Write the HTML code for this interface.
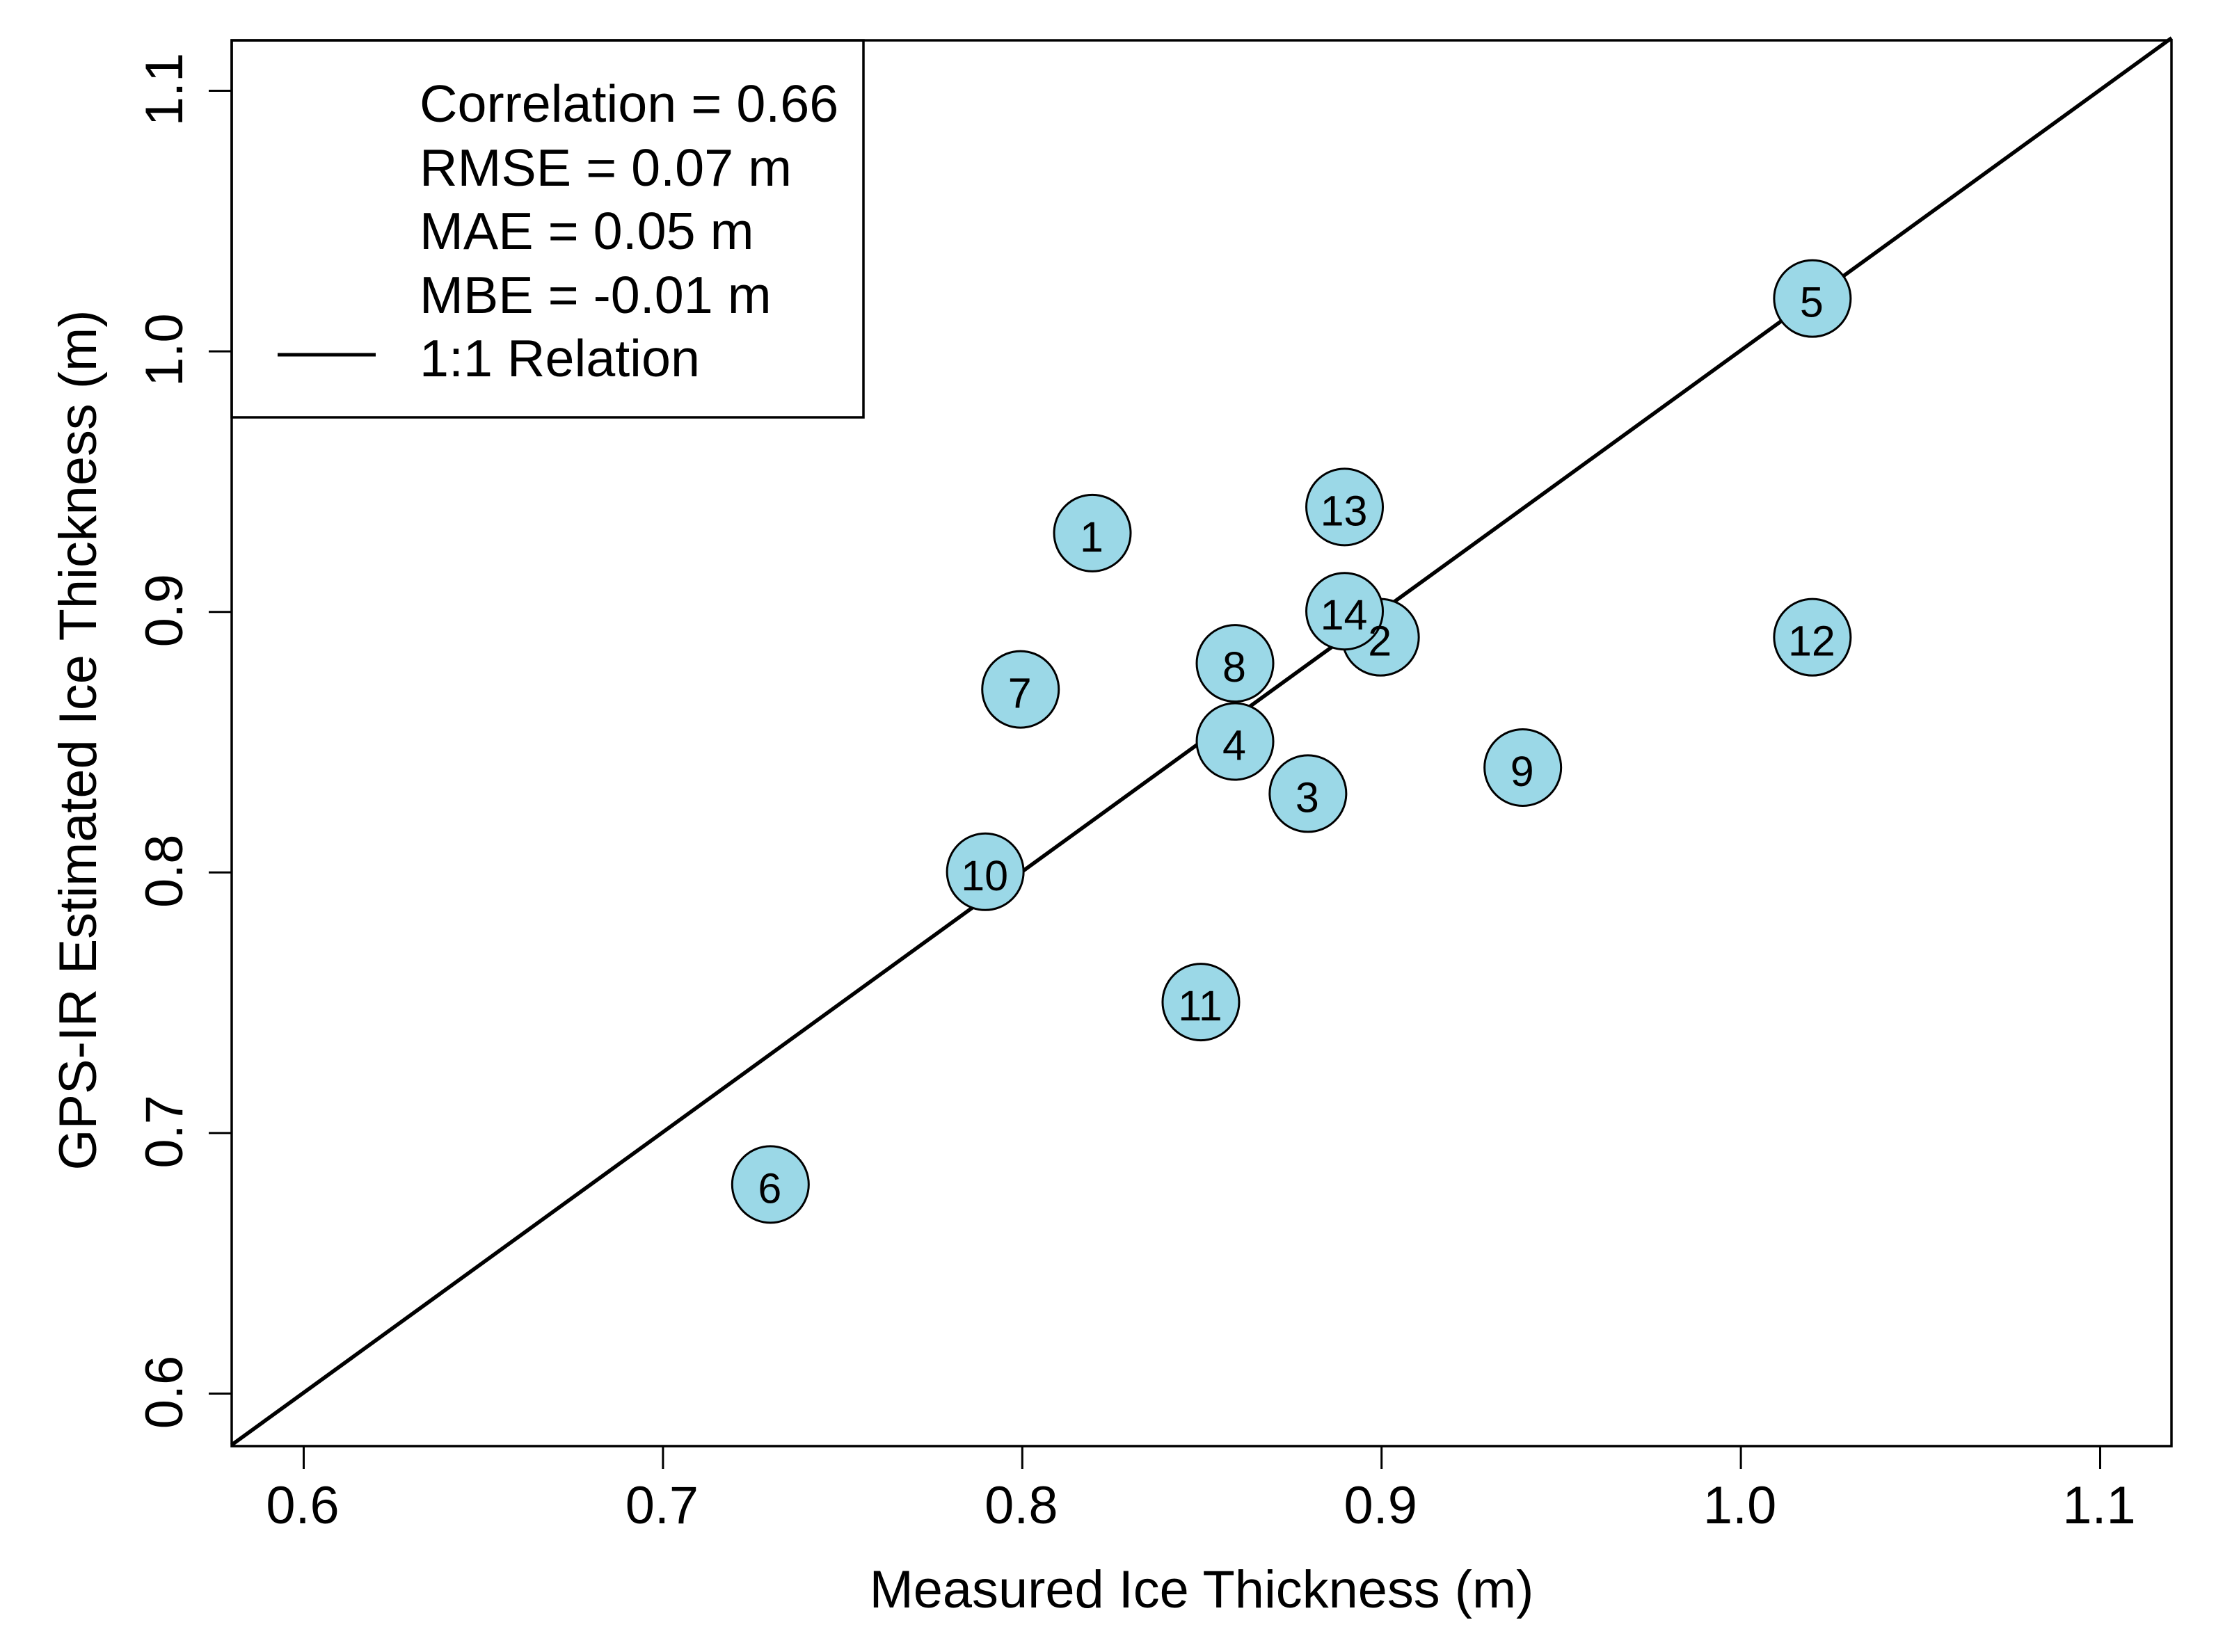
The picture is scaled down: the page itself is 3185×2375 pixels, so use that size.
<!DOCTYPE html>
<html lang="en">
<head>
<meta charset="utf-8">
<title>Measured vs GPS-IR Estimated Ice Thickness</title>
<style>
html,body{margin:0;padding:0;background:#fff;width:3185px;height:2375px;overflow:hidden}
svg{display:block}
text{font-family:"Liberation Sans",Arial,sans-serif;fill:#000}
</style>
</head>
<body>
<svg id="chart" xmlns="http://www.w3.org/2000/svg" width="3185" height="2375" viewBox="0 0 3185 2375">
  <rect x="0" y="0" width="3185" height="2375" fill="#fff"/>
  <g id="identity"></g>
  <g id="points"></g>
  <g id="legend">
    <rect x="333" y="58" width="908" height="542" fill="#fff" stroke="#000" stroke-width="3.5"/>
    <text x="603" y="175" font-size="75.5">Correlation = 0.66</text>
    <text x="603" y="267" font-size="75.5">RMSE = 0.07 m</text>
    <text x="603" y="358" font-size="75.5">MAE = 0.05 m</text>
    <text x="603" y="450" font-size="75.5">MBE = -0.01 m</text>
    <line x1="399" y1="510" x2="540" y2="510" stroke="#000" stroke-width="5"/>
    <text x="603" y="541" font-size="75.5">1:1 Relation</text>
  </g>
  <rect x="333" y="58" width="2788" height="2021" fill="none" stroke="#000" stroke-width="3.5"/>
  <g id="x-axis"></g>
  <g id="y-axis"></g>
  <text x="1727" y="2311" font-size="75.8" text-anchor="middle">Measured Ice Thickness (m)</text>
  <text transform="translate(138 1064) rotate(-90)" x="0" y="0" font-size="75.8" text-anchor="middle">GPS-IR Estimated Ice Thickness (m)</text>
</svg>
<script>
const pointIds = [1, 2, 3, 4, 5, 6, 7, 8, 9, 10, 11, 12, 13, 14];
const measuredThickness = [0.8196, 0.8998, 0.8796, 0.8593, 1.02, 0.73, 0.7996, 0.8593, 0.9394, 0.7898, 0.8498, 1.02, 0.8898, 0.8898];
const estimatedThickness = [0.93, 0.89, 0.83, 0.85, 1.02, 0.68, 0.87, 0.88, 0.84, 0.80, 0.75, 0.89, 0.94, 0.90];
const xTickValues = [0.6, 0.7, 0.8, 0.9, 1.0, 1.1];
const yTickValues = [0.6, 0.7, 0.8, 0.9, 1.0, 1.1];
const xTickLabels = ['0.6', '0.7', '0.8', '0.9', '1.0', '1.1'];
const yTickLabels = ['0.6', '0.7', '0.8', '0.9', '1.0', '1.1'];
const identityEnds = [0.58, 1.12];

const NS = 'http://www.w3.org/2000/svg';
function xScale(v) { return 436 + (v - 0.6) * 5164; }
function yScale(v) { return 2002.5 - (v - 0.6) * 3746; }
function make(tag, parent) {
  const el = document.createElementNS(NS, tag);
  parent.appendChild(el);
  return el;
}

const identityLayer = document.getElementById('identity');
const identityLine = make('line', identityLayer);


identityLine.setAttribute('x1', xScale(identityEnds[0]));
identityLine.setAttribute('y1', yScale(identityEnds[0]));
identityLine.setAttribute('x2', xScale(identityEnds[1]));
identityLine.setAttribute('y2', yScale(identityEnds[1]));
identityLine.setAttribute('stroke', '#000');
identityLine.setAttribute('stroke-width', '5.5');

const pointsLayer = document.getElementById('points');
pointIds.forEach(function (id, i) {
  const cx = xScale(measuredThickness[i]);
  const cy = yScale(estimatedThickness[i]);
  const circle = make('circle', pointsLayer);
  
  
  circle.setAttribute('cx', cx);
  circle.setAttribute('cy', cy);
  circle.setAttribute('r', '55');
  circle.setAttribute('fill', '#9BD8E7');
  circle.setAttribute('stroke', '#000');
  circle.setAttribute('stroke-width', '3');
});
pointIds.forEach(function (id, i) {
  const label = make('text', pointsLayer);
  
  
  label.setAttribute('x', xScale(measuredThickness[i]) - 1);
  label.setAttribute('y', yScale(estimatedThickness[i]) + 26.5);
  label.setAttribute('font-size', '61');
  label.setAttribute('text-anchor', 'middle');
  label.textContent = id;
});

const xAxis = document.getElementById('x-axis');
xTickValues.forEach(function (v, i) {
  const tick = make('line', xAxis);
  
  
  tick.setAttribute('x1', xScale(v) + 0.5);
  tick.setAttribute('x2', xScale(v) + 0.5);
  tick.setAttribute('y1', 2079);
  tick.setAttribute('y2', 2112);
  tick.setAttribute('stroke', '#000');
  tick.setAttribute('stroke-width', '3');
  const label = make('text', xAxis);
  
  
  label.setAttribute('x', xScale(v) - 1);
  label.setAttribute('y', 2190);
  label.setAttribute('font-size', '75.8');
  label.setAttribute('text-anchor', 'middle');
  label.textContent = xTickLabels[i];
});

const yAxis = document.getElementById('y-axis');
yTickValues.forEach(function (v, i) {
  const tick = make('line', yAxis);
  
  
  tick.setAttribute('x1', 300);
  tick.setAttribute('x2', 333);
  tick.setAttribute('y1', yScale(v) + 1);
  tick.setAttribute('y2', yScale(v) + 1);
  tick.setAttribute('stroke', '#000');
  tick.setAttribute('stroke-width', '3');
  const label = make('text', yAxis);
  
  
  label.setAttribute('transform', 'translate(262 ' + (yScale(v) - 1) + ') rotate(-90)');
  label.setAttribute('font-size', '75.8');
  label.setAttribute('text-anchor', 'middle');
  label.textContent = yTickLabels[i];
});
</script>
</body>
</html>
